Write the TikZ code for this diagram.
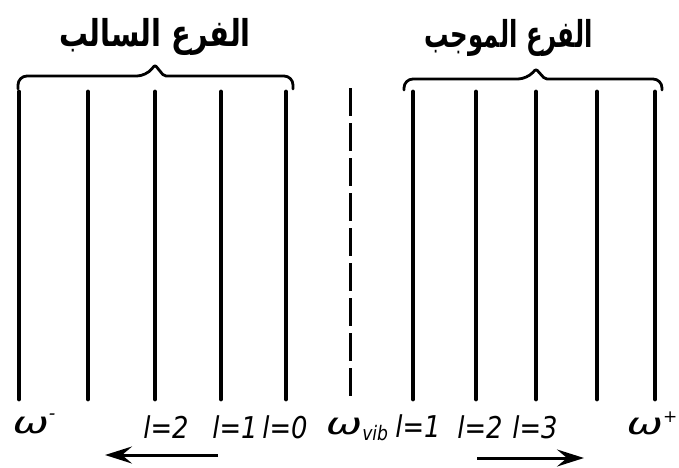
\documentclass[tikz,border=0pt]{standalone}
\usepackage{fontspec}
\usepackage{graphicx}
\usetikzlibrary{arrows.meta}
\TeXXeTstate=1
\newfontfamily\arabicfont[Script=Arabic]{DejaVu Sans}
\newfontfamily\labfont{DejaVu Sans}
\newcommand{\wom}{\scalebox{1.45}[1]{ω}}
\newcommand{\lbl}[1]{\scalebox{0.86}[1]{#1}}
\begin{document}
\begin{tikzpicture}[x=1pt,y=-1pt,
  lvl/.style={line width=4.8pt,line cap=round},
  vib/.style={line width=3pt,dash pattern=on 28pt off 7pt},
  lab/.style={font=\labfont\itshape\fontsize{30}{32}\selectfont,anchor=base,inner sep=0pt},
  ttl/.style={font=\arabicfont\bfseries\fontsize{37}{40}\selectfont,inner sep=0pt},
  br/.style={line width=2.8pt,line cap=round,line join=round},
  arr/.style={line width=3pt,-{Stealth[length=27pt,width=17pt,inset=10pt]}}]
\useasboundingbox (0,0) rectangle (679,467);
% left branch levels
\foreach \n/\x in {a/19,b/88,c/155,d/221,e/286}{
  \coordinate (\n t) at (\x,92); \coordinate (\n b) at (\x,399);
  \draw[lvl] (\n t) -- (\n b);}
% right branch levels
\foreach \n/\x in {f/413,g/476,h/536,i/597,j/655}{
  \coordinate (\n t) at (\x,92); \coordinate (\n b) at (\x,399);
  \draw[lvl] (\n t) -- (\n b);}
% vibrational centre
\coordinate (vt) at (350,88); \coordinate (vb) at (350,402);
\draw[vib] (vt) -- (vb);
% braces
\draw[br,rounded corners=9pt] (18,89) -- (18,76) -- (146,76)
  {[rounded corners=2pt] -- (155,65) -- (164,76)} -- (293,76) -- (293,89);
\draw[br,rounded corners=9pt] (404,90) -- (404,79) -- (527,79)
  {[rounded corners=2pt] -- (536,69) -- (545,79)} -- (662,79) -- (662,90);
% titles
\node[ttl] (tl) at (155,37) {\scalebox{0.78}[1]{\beginR الفرع السالب\endR}};
\node[ttl] (tr) at (509,38) {\scalebox{0.66}[1]{\beginR الفرع الموجب\endR}};
% labels
\node[lab] (wm) at (34,433) {\wom\raisebox{0.45em}{\fontsize{18}{19}\selectfont -}};
\node[lab] (l2) at (166,438) {\lbl{l=2}};
\node[lab] (l1) at (235,438) {\lbl{l=1}};
\node[lab] (l0) at (285,438) {\lbl{l=0}};
\node[lab] (wv) at (357,434) {\wom\raisebox{-0.22em}{\fontsize{20}{21}\selectfont\lbl{vib}}};
\node[lab] (r1) at (418,437) {\lbl{l=1}};
\node[lab] (r2) at (480,438) {\lbl{l=2}};
\node[lab] (r3) at (535,438) {\lbl{l=3}};
\node[lab] (wp) at (652,434) {\wom\raisebox{0.4em}{\fontsize{17}{18}\selectfont +}};
% arrows
\coordinate (al1) at (218,455); \coordinate (al2) at (105,455);
\coordinate (ar1) at (477,458); \coordinate (ar2) at (584,458);
\draw[arr] (al1) -- (al2);
\draw[arr] (ar1) -- (ar2);
\end{tikzpicture}
\end{document}
